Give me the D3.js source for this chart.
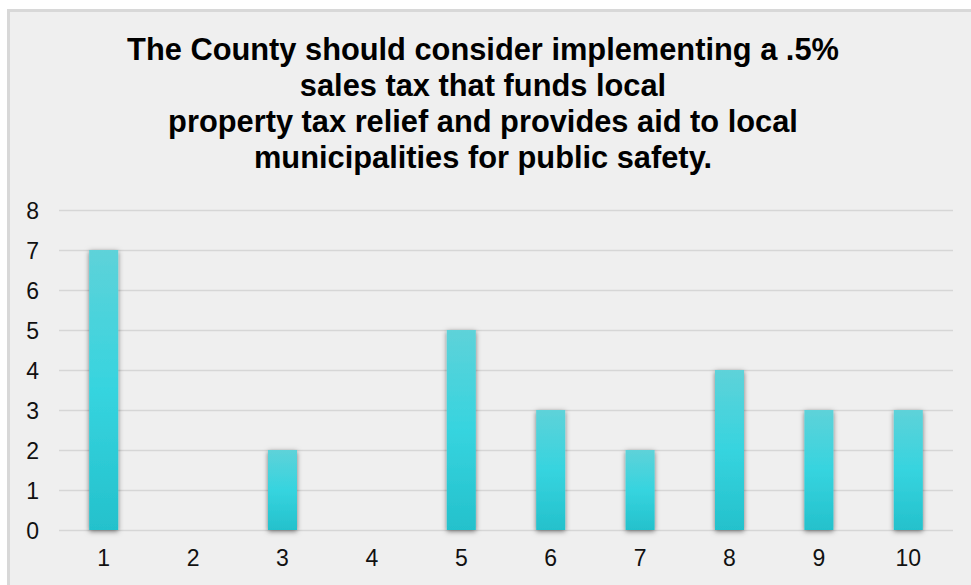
<!DOCTYPE html>
<html>
<head>
<meta charset="utf-8">
<script src="https://cdn.jsdelivr.net/npm/d3@7"></script>
<style>
  html, body { margin: 0; padding: 0; background: #ffffff; }
  svg { display: block; }
</style>
</head>
<body>
<svg id="chart" width="971" height="585"></svg>
<script>
// Survey response counts per rating (1–10)
const categories = ["1", "2", "3", "4", "5", "6", "7", "8", "9", "10"];
const counts = [7, 0, 2, 0, 5, 3, 2, 4, 3, 3];
const yTicks = [0, 1, 2, 3, 4, 5, 6, 7, 8];
const titleLines = [
  "The County should consider implementing a .5%",
  "sales tax that funds local",
  "property tax relief and provides aid to local",
  "municipalities for public safety."
];

const W = 971, H = 585;
const svg = d3.select("#chart");
const font = "'Liberation Sans', Arial, sans-serif";

// Panel background with a light frame on the top and left edges
svg.append("rect")
  .attr("x", 8.5).attr("y", 10.5)
  .attr("width", W + 10).attr("height", H + 10)
  .attr("fill", "#efefef")
  .attr("stroke", "#d8d8d8")
  .attr("stroke-width", 3);

const defs = svg.append("defs");
const grad = defs.append("linearGradient")
  .attr("id", "barFill")
  .attr("x1", 0).attr("y1", 0).attr("x2", 0).attr("y2", 1);
grad.append("stop").attr("offset", "0%").attr("stop-color", "#5ed2d9");
grad.append("stop").attr("offset", "50%").attr("stop-color", "#36d4df");
grad.append("stop").attr("offset", "100%").attr("stop-color", "#24c1cc");

const shadow = defs.append("filter")
  .attr("id", "barShadow")
  .attr("x", "-50%").attr("y", "-10%")
  .attr("width", "200%").attr("height", "120%");
shadow.append("feDropShadow")
  .attr("dx", 0).attr("dy", 1.5)
  .attr("stdDeviation", 2.4)
  .attr("flood-color", "#000")
  .attr("flood-opacity", 0.5);

// Title
const title = svg.append("text")
  .attr("text-anchor", "middle")
  .attr("font-family", font)
  .attr("font-weight", "bold")
  .attr("font-size", 30.8)
  .attr("fill", "#000");
titleLines.forEach((line, i) => {
  title.append("tspan")
    .attr("x", 483)
    .attr("y", 60 + i * 36)
    .text(line);
});

// Scales
const x = d3.scaleBand()
  .domain(categories)
  .range([59, 953])
  .paddingInner(0.675)
  .paddingOuter(0.3375);

const y = d3.scaleLinear()
  .domain([0, 8])
  .range([530, 210]);

// Horizontal gridlines
const grid = d3.axisLeft(y)
  .tickValues(yTicks)
  .tickSize(-(953 - 59))
  .tickFormat("");
svg.append("g")
  .attr("transform", "translate(59,0)")
  .call(grid)
  .call(g => g.select(".domain").remove())
  .call(g => g.selectAll("line")
    .attr("stroke", "#d6d6d6")
    .attr("stroke-width", 1.6));

// Y axis labels
const yAxis = d3.axisLeft(y)
  .tickValues(yTicks)
  .tickSize(0)
  .tickPadding(0)
  .tickFormat(d3.format("d"));
svg.append("g")
  .attr("transform", "translate(39,0)")
  .call(yAxis)
  .call(g => g.select(".domain").remove())
  .call(g => g.selectAll("text")
    .attr("font-family", font)
    .attr("font-size", 23)
    .attr("fill", "#111")
    .attr("dy", "0.36em"));

// X axis labels
const xAxis = d3.axisBottom(x).tickSize(0).tickPadding(0);
svg.append("g")
  .attr("transform", "translate(0,566)")
  .call(xAxis)
  .call(g => g.select(".domain").remove())
  .call(g => g.selectAll("text")
    .attr("font-family", font)
    .attr("font-size", 23)
    .attr("fill", "#111")
    .attr("y", 0)
    .attr("dy", 0));

// Bars
const bw = 29;
svg.append("g")
  .selectAll("rect")
  .data(categories.map((c, i) => ({ c, v: counts[i] })).filter(d => d.v > 0))
  .join("rect")
  .attr("x", d => x(d.c) + x.bandwidth() / 2 - bw / 2)
  .attr("y", d => y(d.v))
  .attr("width", bw)
  .attr("height", d => y(0) - y(d.v))
  .attr("fill", "url(#barFill)")
  .attr("filter", "url(#barShadow)");
</script>
</body>
</html>
